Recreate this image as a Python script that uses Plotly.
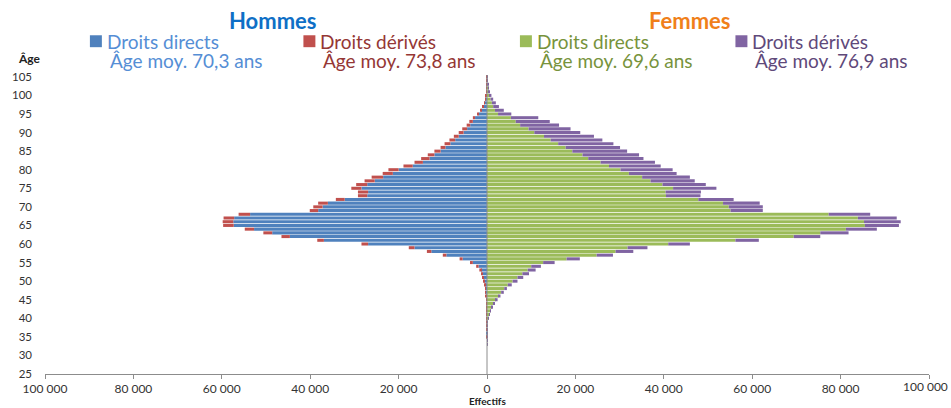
import plotly.graph_objects as go

ages = list(range(25, 106))

hommes_directs = [
    0, 0, 0, 0, 0, 0, 0, 0, 0, 0,
    5, 8, 10, 15, 20, 25, 35, 50, 75, 100,
    130, 180, 250, 330, 450, 600, 750, 980, 1350, 1900,
    3200, 5500, 9200, 12600, 16400, 26900, 36900, 44600, 48600, 52700,
    57300, 57400, 57200, 53600, 38200, 37200, 36000, 32200, 27100, 26900,
    28400, 27100, 25400, 23500, 21300, 20000, 16800, 14500, 13000, 11900,
    10500, 9400, 8300, 7200, 6400, 5300, 4500, 3800, 3200, 2700,
    1900, 1300, 850, 550, 350, 220, 130, 80, 45, 25, 12,
]
hommes_derives = [
    0, 0, 0, 0, 0, 0, 0, 0, 0, 0,
    1, 2, 2, 3, 4, 5, 5, 10, 15, 20,
    40, 60, 80, 110, 150, 230, 300, 370, 380, 550,
    650, 700, 800, 1000, 1300, 1500, 1500, 1900, 2000, 2100,
    2400, 2400, 2400, 2600, 1900, 2100, 2200, 2000, 2100, 2300,
    2300, 2500, 2300, 2600, 2300, 2300, 2100, 1900, 1900, 1500,
    1400, 1100, 1300, 1300, 1100, 1100, 1100, 800, 800, 500,
    350, 250, 180, 120, 80, 50, 30, 20, 10, 5, 3,
]
femmes_directs = [
    0, 0, 0, 0, 0, 0, 0, 0, 5, 10,
    20, 30, 50, 80, 150, 300, 500, 800, 1100, 1500,
    2000, 2600, 3200, 3900, 4700, 5800, 6900, 8000, 9200, 10000,
    12700, 18000, 24800, 29100, 31800, 41000, 56200, 69400, 75400, 81200,
    85500, 85300, 83900, 77300, 55100, 54700, 53400, 47800, 40500, 40400,
    42100, 39700, 37000, 35100, 32100, 30200, 27600, 25700, 22900, 21600,
    19300, 17800, 16100, 14400, 12900, 10700, 9400, 7500, 6500, 5400,
    2500, 1800, 1400, 1100, 800, 600, 400, 250, 150, 80, 40,
]
femmes_derives = [
    0, 0, 0, 0, 0, 0, 0, 0, 1, 2,
    5, 5, 10, 15, 30, 50, 100, 100, 200, 300,
    400, 450, 600, 600, 900, 1100, 1300, 1500, 1800, 2200,
    2600, 3000, 3700, 4000, 4500, 4900, 5300, 6000, 6400, 7000,
    7700, 8300, 8800, 9400, 7300, 7700, 8300, 8000, 7800, 8000,
    9800, 9800, 10000, 10800, 10800, 11800, 11700, 12300, 12500, 12800,
    12400, 12300, 12500, 11700, 11300, 10400, 9500, 8800, 7700, 6200,
    3000, 2000, 1300, 900, 600, 400, 250, 150, 80, 40, 20,
]

x_tickvals = [-100000, -80000, -60000, -40000, -20000, 0, 20000, 40000, 60000, 80000, 100000]
x_ticktext = ["100 000", "80 000", "60 000", "40 000", "20 000", "0",
              "20 000", "40 000", "60 000", "80 000", "100 000"]
y_tickvals = list(range(25, 106, 5))

series_names = ["Droits directs", "Droits dérivés", "Droits directs", "Droits dérivés"]
mean_ages = ["Âge moy. 70,3 ans", "Âge moy. 73,8 ans", "Âge moy. 69,6 ans", "Âge moy. 76,9 ans"]

BAR_COLORS = ["#4F81BD", "#C0504D", "#9BBB59", "#8064A2"]
TEXT_COLORS = ["#558ED5", "#953735", "#77933C", "#5F497A"]
FONT = "Lato"

W, H = 951, 408
ML, MR, MT, MB = 43, 22, 75, 32
PW, PH = W - ML - MR, H - MT - MB


def px(x):
    return (x - ML) / PW


def py(y):
    return (H - MB - y) / PH


fig = go.Figure()
fig.add_trace(go.Bar(y=ages, x=[-v for v in hommes_directs], orientation="h",
                     marker=dict(color=BAR_COLORS[0], line=dict(width=0)), name="H directs"))
fig.add_trace(go.Bar(y=ages, x=[-v for v in hommes_derives], orientation="h",
                     marker=dict(color=BAR_COLORS[1], line=dict(width=0)), name="H dérivés"))
fig.add_trace(go.Bar(y=ages, x=femmes_directs, orientation="h",
                     marker=dict(color=BAR_COLORS[2], line=dict(width=0)), name="F directs"))
fig.add_trace(go.Bar(y=ages, x=femmes_derives, orientation="h",
                     marker=dict(color=BAR_COLORS[3], line=dict(width=0)), name="F dérivés"))

shapes = [
    dict(type="line", xref="x", yref="paper", x0=0, x1=0, y0=0, y1=1.0,
         line=dict(color="#8C8C8C", width=1), layer="above"),
]
annotations = [
    dict(text="<b>Hommes</b>", x=px(272), y=py(20), xref="paper", yref="paper",
         showarrow=False, font=dict(family=FONT, size=22, color="#0F6FC6"),
         xanchor="center", yanchor="middle"),
    dict(text="<b>Femmes</b>", x=px(689), y=py(20), xref="paper", yref="paper",
         showarrow=False, font=dict(family=FONT, size=22, color="#F07F1A"),
         xanchor="center", yanchor="middle"),
    dict(text="<b>Âge</b>", x=px(27), y=py(58), xref="paper", yref="paper",
         showarrow=False, font=dict(family=FONT, size=12, color="#222222"),
         xanchor="center", yanchor="middle"),
    dict(text="<b>Effectifs</b>", x=px(486), y=py(403), xref="paper", yref="paper",
         showarrow=False, font=dict(family=FONT, size=10, color="#222222"),
         xanchor="center", yanchor="middle"),
    # last tick label, drawn separately so that it is not dropped at the right edge
    dict(text=x_ticktext[-1], x=px(950), y=py(389), xref="paper", yref="paper",
         showarrow=False, font=dict(family=FONT, size=12, color="#333333"),
         xanchor="right", yanchor="middle"),
]
legend_x = [88, 302, 519, 735]
for i in range(4):
    x0 = legend_x[i]
    shapes.append(dict(type="rect", xref="paper", yref="paper",
                       x0=px(x0), x1=px(x0 + 12), y0=py(47), y1=py(35),
                       fillcolor=BAR_COLORS[i], line=dict(width=0)))
    annotations.append(dict(text=series_names[i], x=px(x0 + 15), y=py(41),
                            xref="paper", yref="paper", showarrow=False,
                            font=dict(family=FONT, size=19, color=TEXT_COLORS[i]),
                            xanchor="left", yanchor="middle"))
    annotations.append(dict(text=mean_ages[i], x=px(x0 + 18), y=py(60),
                            xref="paper", yref="paper", showarrow=False,
                            font=dict(family=FONT, size=19, color=TEXT_COLORS[i]),
                            xanchor="left", yanchor="middle"))

fig.update_layout(
    width=W, height=H,
    margin=dict(l=ML, r=MR, t=MT, b=MB, pad=0),
    barmode="relative", bargap=0.18,
    plot_bgcolor="white", paper_bgcolor="white",
    showlegend=False,
    shapes=shapes, annotations=annotations,
    font=dict(family=FONT, size=11, color="#333333"),
)
fig.update_xaxes(range=[-100000, 100000], tickvals=x_tickvals,
                 ticktext=x_ticktext[:-1] + [""],
                 showgrid=False, zeroline=False, showline=True, linecolor="#8C8C8C",
                 ticks="outside", ticklen=4, tickcolor="#8C8C8C",
                 tickfont=dict(family=FONT, size=12, color="#333333"), fixedrange=True)
fig.update_yaxes(range=[25, 105.5], tickvals=y_tickvals, showgrid=False, zeroline=False,
                 showline=False, ticks="", ticklabelstandoff=12,
                 tickfont=dict(family=FONT, size=11.5, color="#333333"), fixedrange=True)

fig.write_html("out.html", config={"displayModeBar": False},
               post_script="document.body.style.margin='0px';document.body.style.overflow='hidden';")
